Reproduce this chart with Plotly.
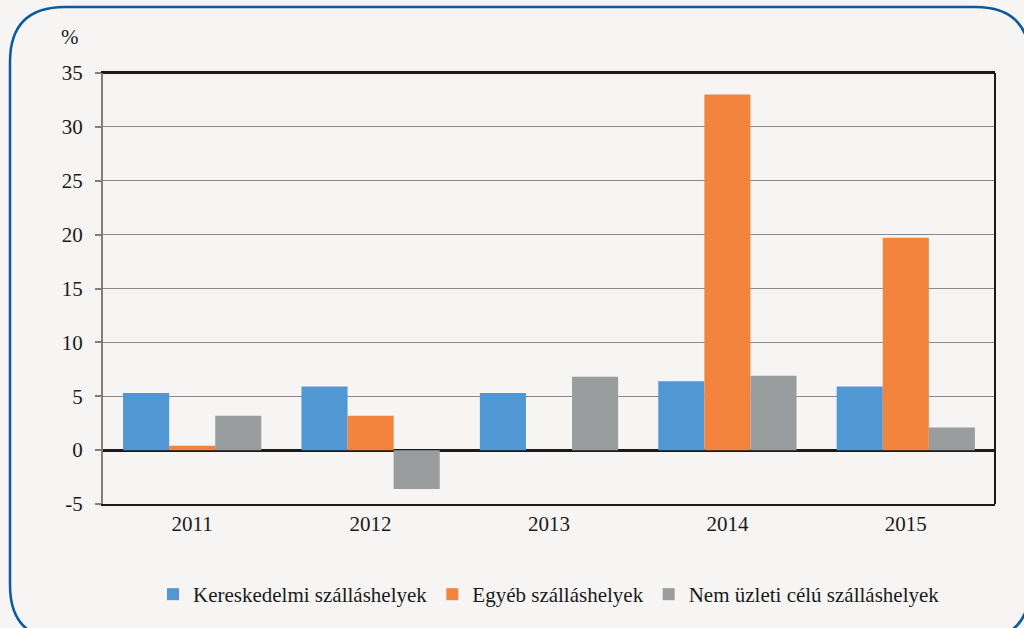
import plotly.graph_objects as go

years = ["2011", "2012", "2013", "2014", "2015"]
kereskedelmi = [5.3, 5.9, 5.3, 6.4, 5.9]
egyeb = [0.4, 3.2, 0.0, 33.0, 19.7]
nem_uzleti = [3.2, -3.6, 6.8, 6.9, 2.1]
y_ticks = [-5, 0, 5, 10, 15, 20, 25, 30, 35]

series = [
    ("Kereskedelmi szálláshelyek", kereskedelmi, "#5097d3"),
    ("Egyéb szálláshelyek", egyeb, "#f2843d"),
    ("Nem üzleti célú szálláshelyek", nem_uzleti, "#9a9d9e"),
]

font = "Liberation Serif, Times New Roman, DejaVu Serif, serif"

fig = go.Figure()
for name, vals, color in series:
    fig.add_trace(go.Bar(
        x=years, y=vals, name=name,
        marker=dict(color=color, line=dict(width=0)),
    ))

fig.update_layout(
    width=1024, height=628,
    barmode="group", bargap=0.225, bargroupgap=0,
    paper_bgcolor="#f6f5f3", plot_bgcolor="#f6f5f3",
    margin=dict(l=103, r=29, t=73, b=124),
    font=dict(family=font, size=21, color="#1a1a1a"),
    showlegend=True,
    legend=dict(orientation="h", x=0.5, xanchor="center", y=-0.21, yanchor="middle",
                font=dict(size=21), itemwidth=30, tracegroupgap=0),
)
fig.update_xaxes(
    showline=True, linecolor="#1a1a1a", linewidth=2, mirror=True,
    ticks="", tickfont=dict(size=21), showgrid=False,
)
fig.update_yaxes(
    range=[-5, 35], tickvals=y_ticks, ticktext=[str(v) for v in y_ticks],
    showgrid=True, gridcolor="#8a8a8a", gridwidth=1,
    showline=True, linecolor="#7f7f7f", linewidth=2,
    ticks="outside", ticklen=6, tickcolor="#7f7f7f", tickwidth=2,
    zeroline=True, zerolinecolor="#1a1a1a", zerolinewidth=2.5,
    tickfont=dict(size=21), ticklabelstandoff=8,
)

# black frame on top and right
fig.add_shape(type="line", xref="paper", yref="paper", x0=1, x1=1, y0=0, y1=1,
              line=dict(color="#1a1a1a", width=2))
fig.add_shape(type="line", xref="paper", yref="paper", x0=0, x1=1, y0=1, y1=1,
              line=dict(color="#1a1a1a", width=2))

# rounded outer border (paper coords: x 0->103px, 1->995px; y 0->504px, 1->73px)
def px_x(p):
    return (p - 103) / 892

def px_y(p):
    return (504 - p) / 431

L, R, T, B, r = 10, 1030, 7, 640, 55
path = (
    f"M {px_x(L + r)},{px_y(T)} L {px_x(R - r)},{px_y(T)} "
    f"Q {px_x(R)},{px_y(T)} {px_x(R)},{px_y(T + r)} "
    f"L {px_x(R)},{px_y(B - r)} Q {px_x(R)},{px_y(B)} {px_x(R - r)},{px_y(B)} "
    f"L {px_x(L + r)},{px_y(B)} Q {px_x(L)},{px_y(B)} {px_x(L)},{px_y(B - r)} "
    f"L {px_x(L)},{px_y(T + r)} Q {px_x(L)},{px_y(T)} {px_x(L + r)},{px_y(T)} Z"
)
fig.add_shape(type="path", xref="paper", yref="paper", path=path,
              line=dict(color="#0b5a9e", width=2.5), layer="below")

fig.add_annotation(text="%", xref="paper", yref="paper", x=px_x(70), y=px_y(37),
                   showarrow=False, font=dict(size=21), xanchor="center", yanchor="middle")

fig.write_html("out.html", config={"displayModeBar": False},
               post_script="document.body.style.margin='0';document.body.style.padding='0';")
